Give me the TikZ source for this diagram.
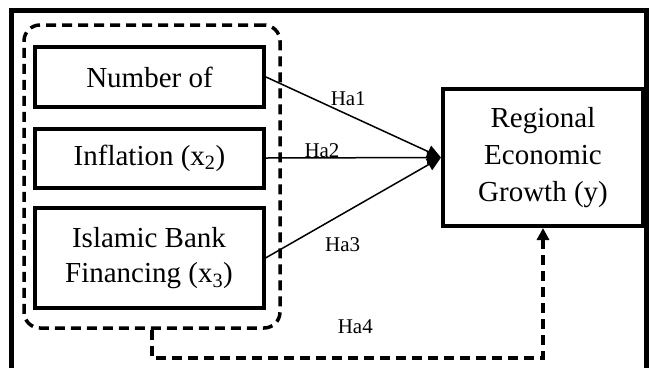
\documentclass[tikz,border=0pt]{standalone}
\usepackage{fontspec}
\setmainfont{Liberation Serif}
\usetikzlibrary{arrows.meta,positioning}
\tikzset{varbox/.style={draw, line width=4pt, align=center, minimum width=229pt, inner sep=0pt, font=\fontsize{29}{35}\selectfont}}
\tikzset{outcome/.style={varbox, minimum width=200pt, minimum height=137pt, font=\fontsize{29}{37}\selectfont}}
\tikzset{groupbox/.style={draw, line width=3.5pt, dash pattern=on 10pt off 6pt, rounded corners=16pt, minimum width=256pt, minimum height=303pt}}
\tikzset{hyp/.style={font=\fontsize{21}{23}\selectfont}}

\begin{document}
\begin{tikzpicture}[x=1pt, y=-1pt]
\useasboundingbox (0,0) rectangle (649,368);
% Frame
\draw[line width=5pt] (11.5,368) -- (11.5,10.5) -- (646.5,10.5) -- (646.5,368);

% Nodes
\node (group) [groupbox] at (152,176.5) {};
\node (banks) [varbox, minimum height=60pt] at (149.5,77) {Number of};
\node (inflation) [varbox, minimum height=59pt] at (149.5,158) {Inflation (x\textsubscript{2})};
\node (financing) [varbox, minimum height=100pt] at (149,258) {Islamic Bank\\ Financing (x\textsubscript{3})};
\node (growth) [outcome] at (543,157.5) {Regional\\ Economic\\ Growth (y)};

% Connectors
\begin{scope}[line width=1.5pt, -{Triangle[length=14pt, width=13pt]}]
\draw (banks.east) -- node[hyp, pos=.47, yshift=16pt] {Ha1} (growth.west);
\draw (inflation.east) -- node[hyp, pos=.32, anchor=base, inner sep=0pt] {Ha2} (growth.west);
\draw (financing.east) -- node[hyp, pos=.44, yshift=-31pt] {Ha3} (growth.west);
\draw [line width=3.5pt, dash pattern=on 10pt off 6pt, -{Triangle[length=12pt, width=12pt]}] (group.south) -- ++(0,28) -| node[hyp, pos=.26, yshift=31pt] {Ha4} (growth.south);
\end{scope}

\end{tikzpicture}
\end{document}
